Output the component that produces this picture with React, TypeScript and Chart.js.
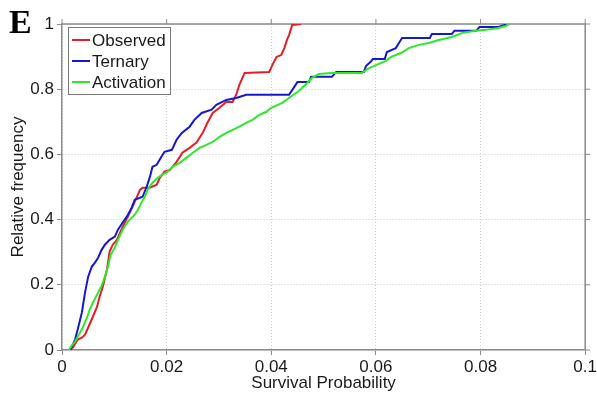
import React, { useEffect, useRef } from "react";
import { Chart, registerables } from "chart.js";
Chart.register(...registerables);

const seriesNames = ["Observed", "Ternary", "Activation"];
const seriesColors = ["#e41e26", "#1717d2", "#2de82d"];

const obsX = [0.0015, 0.0021, 0.003, 0.0038, 0.0044, 0.005, 0.0059, 0.0067, 0.0072, 0.0078, 0.0086, 0.0091, 0.0097, 0.0105, 0.0116, 0.0126, 0.0135, 0.0149, 0.0154, 0.0168, 0.0181, 0.0187, 0.0196, 0.0206, 0.0219, 0.023, 0.0244, 0.0257, 0.0269, 0.0278, 0.0288, 0.0301, 0.0314, 0.0326, 0.0333, 0.0339, 0.0349, 0.0396, 0.0402, 0.041, 0.0419, 0.0425, 0.043, 0.0434, 0.044, 0.0457];
const obsY = [0, 0.008, 0.032, 0.038, 0.047, 0.069, 0.102, 0.133, 0.164, 0.194, 0.247, 0.302, 0.323, 0.338, 0.378, 0.409, 0.44, 0.491, 0.498, 0.498, 0.507, 0.528, 0.547, 0.552, 0.577, 0.605, 0.62, 0.636, 0.666, 0.697, 0.727, 0.743, 0.761, 0.761, 0.783, 0.813, 0.85, 0.853, 0.874, 0.899, 0.905, 0.926, 0.951, 0.966, 0.997, 1];

const terX = [0.0015, 0.0019, 0.0025, 0.003, 0.0038, 0.0044, 0.005, 0.0057, 0.0063, 0.0069, 0.0076, 0.0082, 0.0091, 0.0101, 0.0107, 0.0116, 0.0126, 0.0133, 0.0139, 0.0154, 0.0162, 0.0168, 0.0173, 0.0181, 0.019, 0.0196, 0.021, 0.0219, 0.0229, 0.0244, 0.0253, 0.0267, 0.0286, 0.0295, 0.0314, 0.0333, 0.0352, 0.0434, 0.0444, 0.045, 0.0472, 0.0476, 0.0516, 0.0524, 0.0577, 0.0581, 0.059, 0.0594, 0.0617, 0.0621, 0.0638, 0.0644, 0.065, 0.0703, 0.0707, 0.0745, 0.075, 0.0792, 0.0798, 0.0834, 0.0846, 0.0853];
const terY = [0, 0.011, 0.032, 0.063, 0.115, 0.176, 0.225, 0.256, 0.268, 0.283, 0.308, 0.323, 0.338, 0.348, 0.369, 0.391, 0.415, 0.436, 0.461, 0.47, 0.501, 0.531, 0.562, 0.568, 0.593, 0.608, 0.614, 0.645, 0.666, 0.685, 0.706, 0.727, 0.737, 0.752, 0.767, 0.773, 0.783, 0.783, 0.807, 0.822, 0.822, 0.838, 0.838, 0.853, 0.853, 0.871, 0.884, 0.893, 0.893, 0.914, 0.926, 0.942, 0.957, 0.957, 0.969, 0.969, 0.979, 0.979, 0.991, 0.991, 0.997, 1];

const actX = [0.0013, 0.0019, 0.0025, 0.003, 0.0038, 0.0048, 0.0053, 0.0059, 0.0069, 0.0076, 0.0082, 0.0088, 0.0093, 0.0101, 0.0107, 0.0116, 0.0126, 0.0139, 0.0145, 0.0152, 0.0158, 0.0164, 0.0173, 0.0183, 0.0192, 0.0202, 0.0211, 0.0225, 0.0238, 0.025, 0.0263, 0.0276, 0.0288, 0.0301, 0.0314, 0.0326, 0.0339, 0.0352, 0.0364, 0.0377, 0.039, 0.04, 0.0421, 0.0434, 0.0453, 0.0467, 0.0478, 0.0491, 0.0516, 0.0573, 0.0587, 0.06, 0.0619, 0.0629, 0.0648, 0.0663, 0.0682, 0.0701, 0.072, 0.0745, 0.0764, 0.079, 0.081, 0.0834, 0.0848, 0.0855];
const actY = [0, 0.014, 0.026, 0.041, 0.063, 0.1, 0.124, 0.145, 0.176, 0.198, 0.225, 0.256, 0.292, 0.314, 0.338, 0.369, 0.394, 0.415, 0.43, 0.452, 0.47, 0.492, 0.513, 0.528, 0.538, 0.547, 0.562, 0.574, 0.59, 0.605, 0.62, 0.629, 0.638, 0.654, 0.666, 0.675, 0.685, 0.697, 0.706, 0.721, 0.73, 0.743, 0.758, 0.773, 0.795, 0.816, 0.835, 0.847, 0.85, 0.85, 0.865, 0.874, 0.887, 0.899, 0.911, 0.926, 0.936, 0.942, 0.951, 0.96, 0.972, 0.979, 0.982, 0.988, 0.994, 1];

const xTickValues = [0, 0.02, 0.04, 0.06, 0.08, 0.1];
const xTickLabels = ["0", "0.02", "0.04", "0.06", "0.08", "0.1"];
const yTickValues = [0, 0.2, 0.4, 0.6, 0.8, 1];
const yTickLabels = ["0", "0.2", "0.4", "0.6", "0.8", "1"];
const xTitle = "Survival Probability";
const yTitle = "Relative frequency";
const panelLabel = "E";

const FONT = "'Liberation Sans', Arial, sans-serif";
const AXIS_COLOR = "#8c8c8c";

function zip(xs: number[], ys: number[]) {
  return xs.map((x, i) => ({ x, y: ys[i] }));
}

const decorPlugin = {
  id: "decor",
  beforeDatasetsDraw(chart: any) {
    const { ctx, chartArea } = chart;
    const { left, right, top, bottom } = chartArea;
    ctx.save();
    ctx.strokeStyle = AXIS_COLOR;
    ctx.lineWidth = 1.5;
    ctx.beginPath();
    ctx.moveTo(left, top);
    ctx.lineTo(right, top);
    ctx.lineTo(right, bottom);
    ctx.stroke();
    ctx.lineWidth = 1;
    const xs = chart.scales.x;
    const ys = chart.scales.y;
    ctx.beginPath();
    xTickValues.forEach((v) => {
      const px = xs.getPixelForValue(v);
      ctx.moveTo(px, top);
      ctx.lineTo(px, top - 5);
    });
    yTickValues.forEach((v) => {
      const py = ys.getPixelForValue(v);
      ctx.moveTo(right, py);
      ctx.lineTo(right + 5, py);
    });
    ctx.stroke();
    ctx.restore();
  },
  afterDatasetsDraw(chart: any) {
    const { ctx, chartArea } = chart;
    const bx = chartArea.left + 6;
    const by = chartArea.top + 3;
    const bw = 102;
    const bh = 67;
    ctx.save();
    ctx.fillStyle = "#ffffff";
    ctx.fillRect(bx, by, bw, bh);
    ctx.strokeStyle = "#7a7a7a";
    ctx.lineWidth = 1;
    ctx.strokeRect(bx + 0.5, by + 0.5, bw, bh);
    ctx.font = `17px ${FONT}`;
    ctx.textBaseline = "middle";
    ctx.textAlign = "left";
    seriesNames.forEach((name, i) => {
      const cy = by + 13 + i * 21;
      ctx.strokeStyle = seriesColors[i];
      ctx.lineWidth = 2;
      ctx.beginPath();
      ctx.moveTo(bx + 4, cy);
      ctx.lineTo(bx + 22, cy);
      ctx.stroke();
      ctx.fillStyle = "#1a1a1a";
      ctx.fillText(name, bx + 24, cy + 1);
    });
    ctx.restore();
  },
  afterDraw(chart: any) {
    const { ctx } = chart;
    ctx.save();
    ctx.font = "bold 34px 'Liberation Serif', 'Times New Roman', serif";
    ctx.fillStyle = "#000";
    ctx.textBaseline = "alphabetic";
    ctx.textAlign = "left";
    ctx.fillText(panelLabel, 9, 33);
    ctx.restore();
  },
};

export default function App() {
  const ref = useRef<HTMLCanvasElement | null>(null);
  useEffect(() => {
    if (!ref.current) return;
    const datasets = [
      { label: seriesNames[0], data: zip(obsX, obsY), order: 2 },
      { label: seriesNames[1], data: zip(terX, terY), order: 1 },
      { label: seriesNames[2], data: zip(actX, actY), order: 0 },
    ].map((d, i) => ({
      ...d,
      borderColor: seriesColors[i],
      backgroundColor: seriesColors[i],
      borderWidth: 2,
      pointRadius: 0,
      showLine: true,
      tension: 0,
      fill: false,
    }));
    const chart = new Chart(ref.current, {
      type: "scatter",
      data: { datasets },
      plugins: [decorPlugin],
      options: {
        animation: false,
        responsive: false,
        layout: { padding: { top: 24, right: 0, left: 0, bottom: 0 } },
        plugins: { legend: { display: false }, tooltip: { enabled: false } },
        scales: {
          x: {
            type: "linear",
            min: 0,
            max: 0.1,
            afterBuildTicks: (s: any) => {
              s.ticks = xTickValues.map((v) => ({ value: v }));
            },
            afterFit: (s: any) => {
              s.height = 46;
            },
            ticks: {
              callback: (_v: any, i: number) => xTickLabels[i],
              font: { family: FONT, size: 17 },
              color: "#1a1a1a",
              maxRotation: 0,
              autoSkip: false,
              padding: 2,
            },
            grid: { color: "#cccccc", tickColor: AXIS_COLOR, tickLength: 5, lineWidth: 1 },
            border: { color: AXIS_COLOR, width: 1.5, dash: [1, 2] },
            title: {
              display: true,
              text: xTitle,
              font: { family: FONT, size: 17 },
              color: "#1a1a1a",
              padding: { top: 0, bottom: 2 },
            },
          },
          y: {
            type: "linear",
            min: 0,
            max: 1,
            afterBuildTicks: (s: any) => {
              s.ticks = yTickValues.map((v) => ({ value: v }));
            },
            afterFit: (s: any) => {
              s.width = 62;
            },
            ticks: {
              callback: (_v: any, i: number) => yTickLabels[i],
              font: { family: FONT, size: 17 },
              color: "#1a1a1a",
              padding: 3,
            },
            grid: { color: "#cccccc", tickColor: AXIS_COLOR, tickLength: 5, lineWidth: 1 },
            border: { color: AXIS_COLOR, width: 1.5, dash: [1, 2] },
            title: {
              display: true,
              text: yTitle,
              font: { family: FONT, size: 17 },
              color: "#1a1a1a",
              padding: { top: 8, bottom: 0 },
            },
          },
        },
      },
    } as any);
    return () => chart.destroy();
  }, []);
  return (
    <div style={{ position: "fixed", left: 0, top: 0, width: 597, height: 396, overflow: "hidden", background: "#fff" }}>
      <canvas ref={ref} width={599} height={396} style={{ display: "block" }} />
    </div>
  );
}
